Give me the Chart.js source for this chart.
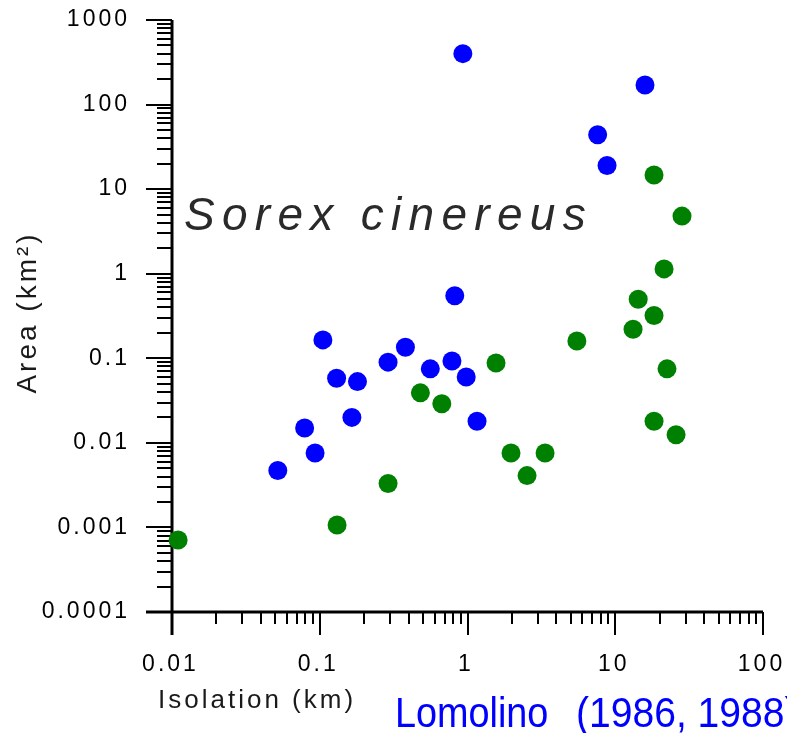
<!DOCTYPE html>
<html>
<head>
<meta charset="utf-8">
<script src="https://cdn.jsdelivr.net/npm/chart.js@4.4.1/dist/chart.umd.min.js"></script>
<style>
  html, body { margin: 0; padding: 0; background: #fff; }
  canvas { display: block; }
</style>
</head>
<body>
<canvas id="c" width="787" height="733"></canvas>
<script>
// Isolation (km) and area (km^2) for each island, two groups
const blueIsolation = [0.93, 15.9, 7.6, 8.8, 0.82, 0.105, 0.38, 0.29, 0.785, 0.56, 0.98, 0.13, 0.18, 0.165, 1.16, 0.079, 0.093, 0.052];
const blueArea      = [400, 170, 44, 19, 0.55, 0.165, 0.135, 0.09, 0.093, 0.075, 0.06, 0.058, 0.053, 0.02, 0.018, 0.015, 0.0076, 0.0047];

const greenIsolation = [18.3, 28.3, 21.4, 14.3, 18.3, 13.2, 5.5, 22.4, 18.3, 25.8, 1.56, 0.48, 0.67, 1.97, 3.35, 2.53, 0.29, 0.131, 0.011];
const greenArea      = [14.7, 4.8, 1.14, 0.5, 0.32, 0.22, 0.16, 0.075, 0.018, 0.0125, 0.088, 0.039, 0.029, 0.0076, 0.0076, 0.0041, 0.0033, 0.00107, 0.00071];

const xTickValues = [0.01, 0.1, 1, 10, 100];
const xTickLabels = ['0.01', '0.1', '1', '10', '100'];
const yTickValues = [0.0001, 0.001, 0.01, 0.1, 1, 10, 100, 1000];
const yTickLabels = ['0.0001', '0.001', '0.01', '0.1', '1', '10', '100', '1000'];

const toPoints = (xs, ys) => xs.map((v, i) => ({ x: v, y: ys[i] }));

// draw text char by char with extra spacing between glyphs
function spacedText(ctx, str, x, y, align, gap) {
    const chars = [...str];
    const widths = chars.map(c => ctx.measureText(c).width);
    const total = widths.reduce((s, w) => s + w, 0) + gap * (chars.length - 1);
    let cx = align === 'right' ? x - total : align === 'center' ? x - total / 2 : x;
    ctx.textAlign = 'left';
    chars.forEach((c, i) => {
        ctx.fillText(c, cx, y);
        cx += widths[i] + gap;
    });
}

function tick(ctx, x1, y1, x2, y2) {
    ctx.beginPath();
    ctx.moveTo(x1, y1);
    ctx.lineTo(x2, y2);
    ctx.stroke();
}

// axes with major/minor log ticks, drawn under the points
const logAxes = {
    id: 'logAxes',
    beforeDatasetsDraw(chart) {
        const { ctx, chartArea: a, scales: { x, y } } = chart;
        const left = Math.round(a.left), bottom = Math.round(a.bottom);
        ctx.save();
        ctx.strokeStyle = '#000';
        ctx.lineWidth = 2;
        ctx.lineCap = 'butt';

        // y ticks: 1..9 per decade
        for (let e = -4; e <= 3; e++) {
            for (let m = 1; m <= 9; m++) {
                const v = m * Math.pow(10, e);
                if (v > 1000.0001) break;
                const py = Math.round(y.getPixelForValue(v));
                tick(ctx, left - (m === 1 ? 26 : 15), py, left, py);
            }
        }
        // x ticks
        for (let e = -2; e <= 2; e++) {
            for (let m = 1; m <= 9; m++) {
                const v = m * Math.pow(10, e);
                if (v > 100.0001) break;
                const px = Math.round(x.getPixelForValue(v));
                tick(ctx, px, bottom, px, bottom + (m === 1 ? 23 : 12));
            }
        }
        ctx.lineWidth = 3;
        tick(ctx, left, Math.round(a.top), left, bottom + 23);
        tick(ctx, left - 26, bottom, Math.round(a.right), bottom);

        // tick labels
        ctx.fillStyle = '#000';
        ctx.font = '23px "Liberation Sans", Arial, sans-serif';
        ctx.textBaseline = 'middle';
        yTickValues.forEach((v, i) => {
            spacedText(ctx, yTickLabels[i], 127, y.getPixelForValue(v), 'right', 3);
        });
        xTickValues.forEach((v, i) => {
            spacedText(ctx, xTickLabels[i], x.getPixelForValue(v) - 3, 665, 'center', 3);
        });

        // axis titles
        ctx.fillStyle = '#1a1a1a';
        ctx.font = '26px "Liberation Sans", Arial, sans-serif';
        ctx.textBaseline = 'alphabetic';
        spacedText(ctx, 'Isolation (km)', 158, 708, 'left', 3);

        ctx.save();
        ctx.translate(36, 314);
        ctx.rotate(-Math.PI / 2);
        ctx.font = '28px "Liberation Sans", Arial, sans-serif';
        spacedText(ctx, 'Area (km²)', 0, 0, 'center', 3);
        ctx.restore();

        // species name inside the plot
        ctx.fillStyle = '#2a2a2a';
        ctx.font = 'italic 46px "Liberation Sans", Arial, sans-serif';
        spacedText(ctx, 'Sorex cinereus', 184, 230, 'left', 7.3);

        // source line, narrowed horizontally
        ctx.fillStyle = '#0000ff';
        ctx.font = '42px "Liberation Sans", Arial, sans-serif';
        ctx.textAlign = 'left';
        ctx.save();
        ctx.translate(395, 727);
        ctx.scale(0.9, 1);
        ctx.fillText('Lomolino', 0, 0);
        ctx.restore();
        ctx.save();
        ctx.translate(576, 727);
        ctx.scale(0.93, 1);
        ctx.fillText('(1986, 1988)', 0, 0);
        ctx.restore();

        ctx.restore();
    }
};

new Chart(document.getElementById('c'), {
    type: 'scatter',
    data: {
        datasets: [
            {
                label: 'blue',
                data: toPoints(blueIsolation, blueArea),
                backgroundColor: '#0000ff',
                borderWidth: 0,
                pointRadius: 9.5,
                pointHoverRadius: 9.5,
                clip: false
            },
            {
                label: 'green',
                data: toPoints(greenIsolation, greenArea),
                backgroundColor: '#008000',
                borderWidth: 0,
                pointRadius: 9.5,
                pointHoverRadius: 9.5,
                clip: false
            }
        ]
    },
    options: {
        responsive: false,
        animation: false,
        layout: { padding: { left: 172, right: 24, top: 20, bottom: 121 } },
        plugins: { legend: { display: false }, tooltip: { enabled: false } },
        scales: {
            x: { type: 'logarithmic', min: 0.01, max: 100, display: false },
            y: { type: 'logarithmic', min: 0.0001, max: 1000, display: false }
        }
    },
    plugins: [logAxes]
});
</script>
</body>
</html>
